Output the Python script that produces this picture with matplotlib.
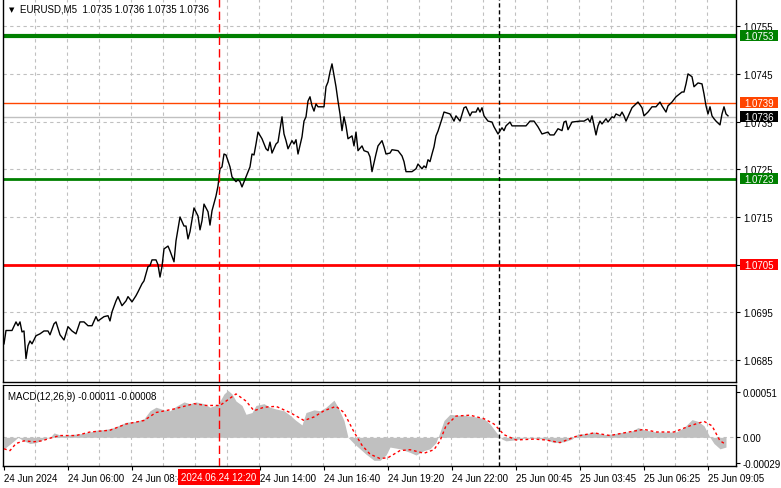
import numpy as np
import matplotlib
matplotlib.use('Agg')
import matplotlib.pyplot as plt
import matplotlib.transforms as mtransforms
from matplotlib.patches import Rectangle

plt.rcParams['font.family'] = ['Liberation Sans', 'DejaVu Sans']

# EURUSD M5 close prices (bar index, price)
close_bar = [0, 1, 4, 6, 7, 8, 9, 10, 11, 12, 13, 14, 16, 18, 20, 22, 23, 25, 26, 28,
             30, 32, 34, 36, 38, 40, 42, 44, 46, 47, 50, 52, 53, 54, 56, 57, 59, 61, 62, 64,
             66, 67, 69, 70, 72, 73, 74, 76, 77, 78, 79, 80, 82, 83, 85, 86, 88, 90, 91, 92,
             93, 95, 97, 98, 99, 100, 102, 103, 104, 106, 107, 108, 109, 110, 111, 113, 114, 116, 117, 118,
             119, 121, 123, 124, 125, 126, 127, 129, 131, 132, 133, 134, 136, 137, 139, 140, 141, 142, 144, 145,
             146, 147, 149, 150, 151, 152, 153, 154, 155, 156, 157, 160, 161, 162, 163, 164, 166, 167, 168, 169,
             170, 171, 172, 174, 175, 176, 177, 179, 180, 182, 183, 184, 186, 187, 189, 190, 191, 193, 194, 197,
             199, 200, 201, 204, 206, 207, 209, 210, 211, 212, 213, 214, 215, 216, 217, 219, 220, 223, 225, 226,
             228, 230, 231, 233, 234, 236, 237, 238, 239, 240, 242, 244, 245, 247, 249, 250, 251, 253, 254, 258,
             261, 263, 265, 267, 269, 272, 273, 275, 277, 279, 280, 281, 282, 284, 288, 290, 292, 293, 294, 296,
             297, 298, 299, 301, 302, 304, 305, 306, 308, 309, 310, 311, 313, 314, 317, 319, 320, 322, 324, 326,
             328, 329, 331, 332, 334, 336, 339, 340, 341, 342, 344, 345, 347, 349, 350, 351, 352, 353, 354, 355,
             356, 358, 359, 360, 361, 362]
close_px = [1.06884, 1.06912, 1.06912, 1.06930, 1.06922, 1.06930, 1.06909, 1.06911, 1.06853, 1.06880,
            1.06890, 1.06884, 1.06901, 1.06905, 1.06911, 1.06911, 1.06903, 1.06926, 1.06930, 1.06903,
            1.06892, 1.06920, 1.06911, 1.06905, 1.06930, 1.06930, 1.06922, 1.06922, 1.06941, 1.06932,
            1.06941, 1.06943, 1.06932, 1.06951, 1.06974, 1.06983, 1.06964, 1.06974, 1.06983, 1.06972,
            1.06985, 1.06993, 1.07010, 1.07016, 1.07046, 1.07048, 1.07060, 1.07060, 1.07050, 1.07024,
            1.07046, 1.07083, 1.07089, 1.07079, 1.07056, 1.07100, 1.07150, 1.07131, 1.07131, 1.07104,
            1.07119, 1.07169, 1.07152, 1.07123, 1.07142, 1.07177, 1.07161, 1.07133, 1.07163, 1.07194,
            1.07215, 1.07251, 1.07255, 1.07282, 1.07280, 1.07255, 1.07234, 1.07224, 1.07228, 1.07224,
            1.07213, 1.07234, 1.07255, 1.07282, 1.07280, 1.07303, 1.07328, 1.07314, 1.07293, 1.07289,
            1.07307, 1.07284, 1.07303, 1.07307, 1.07360, 1.07324, 1.07310, 1.07293, 1.07310, 1.07303,
            1.07312, 1.07282, 1.07318, 1.07351, 1.07360, 1.07393, 1.07402, 1.07383, 1.07372, 1.07387,
            1.07381, 1.07381, 1.07423, 1.07433, 1.07454, 1.07471, 1.07423, 1.07393, 1.07366, 1.07331,
            1.07360, 1.07341, 1.07314, 1.07320, 1.07299, 1.07328, 1.07289, 1.07299, 1.07289, 1.07286,
            1.07276, 1.07245, 1.07282, 1.07299, 1.07310, 1.07297, 1.07282, 1.07284, 1.07291, 1.07289,
            1.07278, 1.07266, 1.07245, 1.07245, 1.07251, 1.07261, 1.07251, 1.07257, 1.07253, 1.07270,
            1.07266, 1.07282, 1.07297, 1.07320, 1.07330, 1.07356, 1.07370, 1.07366, 1.07351, 1.07362,
            1.07351, 1.07379, 1.07381, 1.07362, 1.07370, 1.07370, 1.07379, 1.07370, 1.07379, 1.07362,
            1.07351, 1.07349, 1.07339, 1.07324, 1.07337, 1.07331, 1.07341, 1.07349, 1.07341, 1.07341,
            1.07341, 1.07351, 1.07351, 1.07339, 1.07324, 1.07328, 1.07322, 1.07322, 1.07335, 1.07331,
            1.07349, 1.07351, 1.07333, 1.07349, 1.07351, 1.07351, 1.07356, 1.07349, 1.07362, 1.07322,
            1.07341, 1.07351, 1.07345, 1.07356, 1.07349, 1.07360, 1.07358, 1.07366, 1.07362, 1.07370,
            1.07362, 1.07351, 1.07370, 1.07379, 1.07391, 1.07379, 1.07362, 1.07370, 1.07381, 1.07381,
            1.07391, 1.07383, 1.07370, 1.07383, 1.07391, 1.07402, 1.07412, 1.07412, 1.07429, 1.07450,
            1.07444, 1.07423, 1.07431, 1.07429, 1.07408, 1.07383, 1.07366, 1.07381, 1.07362, 1.07356,
            1.07351, 1.07343, 1.07366, 1.07381, 1.07366, 1.07362]

# MACD(12,26,9) main (histogram) and signal
hist_bar = [0, 2, 5, 7, 10, 13, 16, 20, 23, 25, 29, 33, 38, 43, 46, 51, 55, 58, 61, 66,
            70, 73, 76, 80, 83, 86, 90, 93, 96, 100, 103, 107, 110, 112, 114, 116, 119, 121, 124, 126,
            130, 133, 136, 140, 143, 146, 149, 151, 155, 158, 161, 165, 167, 170, 172, 175, 178, 181, 185, 188,
            191, 193, 198, 203, 206, 210, 213, 216, 218, 220, 223, 226, 230, 233, 236, 240, 243, 246, 249, 251,
            255, 260, 265, 270, 275, 280, 284, 287, 291, 295, 300, 305, 310, 313, 317, 321, 326, 331, 336, 340,
            344, 347, 350, 353, 355, 358, 361]
hist_val = [-0.00013, -0.000095, -0.00004, 0.0, -0.00004, -0.00007, -0.00006, -0.00002, 0.0, 0.00005,
            0.00002, 0.00003, 0.00004, 0.00006, 0.00008, 0.00009, 0.00011, 0.00014, 0.00017, 0.00018,
            0.00021, 0.00030, 0.00034, 0.00031, 0.00030, 0.00035, 0.00040, 0.00038, 0.00040, 0.00038,
            0.00034, 0.00037, 0.00049, 0.00053, 0.00049, 0.00041, 0.00036, 0.00026, 0.00028, 0.00036,
            0.00038, 0.00034, 0.00032, 0.00030, 0.00025, 0.00019, 0.00014, 0.00028, 0.00031, 0.00030,
            0.00034, 0.00042, 0.00034, 0.00019, 0.0, -0.00007, -0.00013, -0.00019, -0.00026, -0.00026,
            -0.00020, -0.00011, -0.00013, -0.00017, -0.00020, -0.00015, -0.00013, -0.00006, 0.00006, 0.00019,
            0.00026, 0.00025, 0.00025, 0.00024, 0.00023, 0.00021, 0.00015, 0.00006, -0.00002, -0.00004,
            -0.00003, -0.00001, -0.00001, -0.00002, -0.00006, -0.00005, -0.00002, 0.00004, 0.00004, 0.00006,
            0.00003, 0.00004, 0.00006, 0.00006, 0.00011, 0.00008, 0.00006, 0.00006, 0.00006, 0.00011,
            0.00020, 0.00018, 0.00013, 0.0, -0.00007, -0.00013, -0.00011]
sig_bar = [0, 3, 6, 10, 15, 19, 23, 28, 36, 43, 53, 61, 70, 76, 85, 95, 101, 108, 116, 121,
           125, 130, 136, 143, 150, 155, 160, 166, 170, 175, 179, 183, 188, 192, 198, 203, 210, 215, 218, 221,
           226, 233, 240, 245, 250, 256, 265, 271, 278, 286, 295, 303, 310, 320, 326, 335, 343, 350, 354, 358,
           361]
sig_val = [-0.00013, -0.00015, -0.00007, -0.00004, -0.00005, -0.00004, -0.00001, 0.00002, 0.00002, 0.00006,
           0.00008, 0.00015, 0.00019, 0.00028, 0.00032, 0.00038, 0.00036, 0.00036, 0.00049, 0.00041,
           0.00030, 0.00034, 0.00035, 0.00028, 0.00019, 0.00023, 0.00030, 0.00035, 0.00028, 0.00006,
           -0.00009, -0.00019, -0.00024, -0.00023, -0.00015, -0.00014, -0.00018, -0.00014, -0.00004, 0.00013,
           0.00024, 0.00025, 0.00021, 0.00015, 0.00003, -0.00003, -0.00002, -0.00003, -0.00006, 0.00001,
           0.00005, 0.00002, 0.00005, 0.00009, 0.00006, 0.00006, 0.00013, 0.00018, 0.00013, -0.00004,
           -0.00008]

price_ticks = [1.0685, 1.0695, 1.0705, 1.0715, 1.0725, 1.0735, 1.0745, 1.0755]
time_ticks = [0, 32, 64, 128, 160, 192, 224, 256, 288, 320, 352]
time_labels = ['24 Jun 2024', '24 Jun 06:00', '24 Jun 08:40', '24 Jun 14:00', '24 Jun 16:40',
               '24 Jun 19:20', '24 Jun 22:00', '25 Jun 00:45', '25 Jun 03:45', '25 Jun 06:25',
               '25 Jun 09:05']
levels = [(1.0753, '#008000', 3.0), (1.0723, '#008000', 2.0), (1.0705, '#ff0000', 2.0),
          (1.0739, '#ff4500', 1.0), (1.0736, '#c0c0c0', 1.0)]
level_tags = [(1.0753, '#008000'), (1.0739, '#ff4500'), (1.0736, '#000000'),
              (1.0723, '#008000'), (1.0705, '#ff0000')]

W, H = 781, 489
FS = 7
fig = plt.figure(figsize=(W / 100, H / 100), dpi=100)
ax = fig.add_axes([3 / W, 1 - 383 / H, 733 / W, 383 / H])
axm = fig.add_axes([3 / W, 1 - 467 / H, 733 / W, 81 / H], sharex=ax)

gridc = '#c0c0c0'
grid_ls = (0, (3, 3))
for a in (ax, axm):
    for gx in np.arange(15.5, 366, 16):
        a.axvline(gx, color=gridc, ls=grid_ls, lw=0.8, zorder=0)
    a.spines['top'].set_visible(False)
    for s in ('left', 'right', 'bottom'):
        a.spines[s].set_linewidth(1.0)
    a.yaxis.tick_right()
    a.tick_params(axis='y', length=3, width=0.8, pad=2, labelsize=FS, colors='black')

for p in price_ticks:
    ax.axhline(p, color=gridc, ls=grid_ls, lw=0.8, zorder=0)
axm.axhline(0, color=gridc, ls=grid_ls, lw=0.8, zorder=0)
axm.spines['top'].set_visible(True)

# main price panel
for val, col, lw in levels:
    ax.axhline(val, color=col, lw=lw, zorder=2)
ax.plot(close_bar, close_px, color='black', lw=1.0, zorder=3)
ax.set_ylim(1.06804, 1.07607)
ax.set_yticks(price_ticks)
ax.set_yticklabels(['%.4f' % p for p in price_ticks])
ax.tick_params(axis='x', bottom=False, labelbottom=False)

# coloured price tags on the right scale
ytr = ax.get_yaxis_transform()
box_h = 11 * (1.07607 - 1.06804) / 383
for val, col in level_tags:
    ax.add_patch(Rectangle((1.0 + 4 / 733, val - box_h / 2), 38 / 733, box_h, transform=ytr,
                           fc=col, ec='none', clip_on=False, zorder=5))
    ax.text(1.0 + 23 / 733, val, '%.4f' % val, transform=ytr, ha='center', va='center',
            fontsize=FS, color='white', zorder=6, clip_on=False)

ax.text(6 / 733, 1 - 10 / 383, u'\u25bc', transform=ax.transAxes, fontsize=5,
        ha='left', va='center', family='DejaVu Sans')
ax.text(17 / 733, 1 - 10 / 383, 'EURUSD,M5  1.0735 1.0736 1.0735 1.0736',
        transform=ax.transAxes, fontsize=FS, ha='left', va='center')

# MACD panel
axm.fill_between(hist_bar, 0, hist_val, color='#c0c0c0', lw=0, zorder=1)
axm.plot(sig_bar, sig_val, color='red', lw=1.0, ls=(0, (2, 2)), zorder=3)
axm.set_ylim(-0.000324, 0.000591)
axm.set_yticks([-0.00029, 0.0, 0.00051])
axm.set_yticklabels(['-0.00029', '0.00', '0.00051'])
axm.text(5 / 733, 1 - 11 / 81, 'MACD(12,26,9) -0.00011 -0.00008', transform=axm.transAxes,
         fontsize=FS, ha='left', va='center')

axm.set_xlim(-0.5, 366)
axm.set_xticks(time_ticks)
axm.set_xticklabels(time_labels)
axm.tick_params(axis='x', length=3, width=0.8, pad=2, labelsize=FS)
for lab in axm.get_xticklabels():
    lab.set_horizontalalignment('left')

# crosshair and day separator
for a in (ax, axm):
    a.axvline(107.5, color='#ff0000', lw=1.0, ls=(0, (6, 3)), zorder=4)
    a.axvline(247.5, color='black', lw=1.0, ls=(0, (3, 2)), zorder=4)

xtr = mtransforms.blended_transform_factory(axm.transData, axm.transAxes)
axm.text(107.5, -0.135, '2024.06.24 12:20', transform=xtr,
         ha='center', va='center', fontsize=FS, color='white', zorder=6, clip_on=False,
         bbox=dict(boxstyle='square,pad=0.3', fc='#ff0000', ec='none'))

fig.savefig('out.png', dpi=100, facecolor='white')
